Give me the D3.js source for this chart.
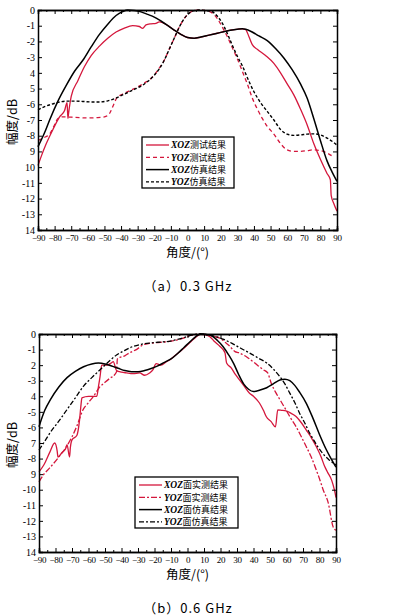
<!DOCTYPE html>
<html lang="zh">
<head>
<meta charset="UTF-8">
<script src="https://cdn.jsdelivr.net/npm/d3@7"></script>
<style>
    body { margin: 0; background: #fff; }
    .tick text { font-family: "Liberation Serif", serif; fill: #000; }
    .title { font-family: "Noto Sans CJK SC", sans-serif; font-size: 12.5px; }
    .caption { font-family: "Noto Sans CJK SC", sans-serif; font-size: 13px; }
    .leg { font-family: "Noto Sans CJK SC", sans-serif; font-size: 9px; }
    .leg .it { font-family: "Liberation Serif", serif; font-style: italic; font-weight: bold; font-size: 9.5px; }
</style>
</head>
<body>
<svg id="chart" width="399" height="616"></svg>
<script>
// ---- data (angle in degrees, gain in dB) ----
const xTicks = [-90, -80, -70, -60, -50, -40, -30, -20, -10, 0, 10, 20, 30, 40, 50, 60, 70, 80, 90];
const yLabelsA = ["0", "-1", "-2", "-3", "4", "5", "-6", "-7", "-8", "9", "10", "-11", "-12", "-13", "14"];
const yLabelsB = ["0", "-1", "2", "-3", "4", "-5", "-6", "7", "-8", "9", "-10", "-11", "-12", "-13", "14"];

// (a) 0.3 GHz
const xozMeasA = [[-90,-9.9],[-88,-9.3],[-85,-8.5],[-81,-7.6],[-77,-6.8],[-74,-6.4],[-72.5,-5.9],[-72,-6.9],[-71.5,-6.5],[-70,-5.5],[-66,-4.5],[-62,-3.6],[-58,-2.9],[-53,-2.3],[-48,-1.8],[-43,-1.4],[-38,-1.15],[-33,-1.0],[-29,-1.05],[-27,-1.17],[-25,-0.95],[-22,-0.88],[-19,-0.85],[-17,-0.76],[-15,-0.8],[-12,-0.98],[-8,-1.28],[-4,-1.55],[0,-1.75],[4,-1.8],[8,-1.72],[13,-1.6],[18,-1.48],[23,-1.35],[28,-1.25],[33,-1.2],[35,-1.25],[37,-1.7],[39,-2.2],[42,-2.5],[47,-2.9],[52,-3.4],[56,-4.0],[60,-4.7],[64,-5.4],[68,-6.3],[72,-7.3],[76,-8.5],[80,-9.5],[84,-10.4],[86,-10.8],[86.5,-11.8],[88,-12.3],[90,-12.8]];
const yozMeasA = [[-90,-8.3],[-86,-8.1],[-83,-7.9],[-80,-7.3],[-78,-6.9],[-75,-6.8],[-70,-6.82],[-65,-6.85],[-60,-6.87],[-55,-6.85],[-50,-6.8],[-47,-6.6],[-46,-6.4],[-44,-5.9],[-42,-5.5],[-40,-5.4],[-38,-5.3],[-34,-5.1],[-30,-4.9],[-26,-4.65],[-22,-4.35],[-19,-4.0],[-17,-3.7],[-14,-3.2],[-11,-2.5],[-8,-1.8],[-5,-1.1],[-2,-0.55],[1,-0.2],[4,-0.04],[7.5,0],[11,-0.04],[15,-0.2],[18,-0.55],[21,-1.1],[24,-1.7],[27,-2.4],[30,-3.1],[33,-3.9],[36,-4.7],[39,-5.6],[42,-6.3],[45,-6.9],[48,-7.4],[52,-7.9],[56,-8.5],[60,-8.9],[64,-9.0],[68,-9.0],[72,-8.95],[76,-8.9],[80,-8.95],[84,-9.1],[88,-9.35]];
const xozSimA = [[-90,-8.7],[-86,-7.8],[-83,-7.0],[-78,-5.8],[-73,-4.8],[-68,-3.9],[-63,-3.2],[-58,-2.35],[-53,-1.55],[-48,-0.9],[-43,-0.35],[-39,-0.1],[-36,0],[-32,-0.03],[-28,-0.12],[-24,-0.28],[-20,-0.45],[-16,-0.7],[-12,-0.98],[-8,-1.28],[-4,-1.55],[0,-1.75],[4,-1.8],[8,-1.72],[13,-1.6],[18,-1.48],[23,-1.35],[28,-1.25],[33,-1.2],[38,-1.35],[43,-1.65],[48,-1.95],[53,-2.45],[58,-3.05],[63,-3.8],[68,-4.7],[72,-5.6],[76,-6.9],[80,-8.3],[84,-9.6],[87,-10.3],[90,-10.9]];
const yozSimA = [[-90,-6.35],[-86,-6.15],[-82,-6.0],[-78,-5.88],[-73,-5.8],[-68,-5.8],[-63,-5.82],[-58,-5.85],[-53,-5.85],[-48,-5.78],[-44,-5.65],[-40,-5.45],[-36,-5.25],[-32,-5.05],[-28,-4.85],[-24,-4.55],[-20,-4.15],[-17,-3.75],[-14,-3.2],[-11,-2.5],[-8,-1.8],[-5,-1.1],[-2,-0.55],[1,-0.2],[4,-0.04],[7.5,0],[11,-0.04],[15,-0.12],[18,-0.4],[21,-0.85],[24,-1.5],[27,-2.25],[30,-2.95],[33,-3.55],[36,-4.3],[40,-5.2],[44,-5.9],[48,-6.45],[52,-7.0],[56,-7.6],[60,-7.9],[64,-7.98],[68,-7.95],[72,-7.9],[76,-7.88],[80,-7.95],[84,-8.15],[87,-8.35],[90,-8.6]];

// (b) 0.6 GHz
const xozMeasB = [[-90,-8.85],[-87,-8.4],[-83.5,-7.6],[-80.5,-7.0],[-79,-7.5],[-78.5,-7.9],[-76,-7.6],[-74,-7.4],[-73,-7.1],[-71.5,-7.9],[-71,-7.3],[-70,-6.8],[-67,-6.5],[-65.5,-5.6],[-64.5,-4.5],[-64,-4.1],[-60,-4.0],[-55,-4.0],[-54,-3.4],[-53,-2.74],[-52,-2.0],[-49,-2.0],[-46,-1.85],[-45,-1.78],[-43,-2.35],[-40,-2.45],[-37,-2.5],[-33,-2.55],[-29,-2.5],[-26,-2.65],[-23,-2.5],[-21,-2.3],[-19,-1.9],[-16,-2.0],[-13,-1.8],[-10,-1.6],[-6,-1.25],[-2,-0.9],[2,-0.5],[5,-0.2],[8,-0.02],[11,-0.05],[13.6,-0.17],[16,-0.45],[19.7,-0.8],[22.7,-1.2],[23.7,-1.86],[26.7,-2.2],[29,-2.6],[31.5,-2.95],[34,-3.3],[37.6,-3.8],[40,-4.0],[43.6,-4.43],[46,-4.9],[47.7,-5.3],[50.7,-5.63],[53.3,-5.97],[54.7,-4.88],[57,-4.9],[59.7,-4.93],[62,-5.05],[65.8,-5.3],[69,-5.7],[72,-6.17],[75,-6.65],[78.1,-7.24],[81,-7.9],[83.1,-8.5],[85,-8.9],[87.4,-9.4],[89,-10.0],[90,-10.5]];
const yozMeasB = [[-90,-9.5],[-87,-9.0],[-83.5,-8.6],[-78,-7.9],[-73.4,-7.24],[-70,-6.6],[-67.2,-5.95],[-63.4,-4.88],[-60,-4.4],[-57,-4.0],[-53,-3.38],[-50,-3.1],[-47,-2.84],[-44,-2.6],[-43,-2.42],[-42.5,-1.6],[-41,-1.5],[-38,-1.4],[-35,-1.2],[-31,-1.0],[-27,-0.7],[-23,-0.6],[-18,-0.55],[-13,-0.5],[-8,-0.42],[-3,-0.28],[1,-0.12],[5,-0.02],[8,0],[12,-0.05],[16,-0.15],[19.7,-0.27],[23,-0.55],[25.8,-0.8],[27.6,-1.03],[28.8,-1.13],[31,-1.2],[35.7,-1.46],[40,-1.8],[43.6,-2.1],[46,-2.3],[48.6,-2.5],[50.7,-3.15],[53.7,-3.8],[56.5,-4.3],[59.7,-4.88],[62.5,-5.4],[65.8,-5.95],[69,-6.6],[72,-7.24],[75,-7.9],[78.1,-8.75],[80,-9.3],[82.2,-10.0],[85.3,-10.85],[88.3,-12.4],[90,-12.6]];
const xozSimB = [[-90,-5.95],[-86.5,-4.9],[-83,-4.2],[-78,-3.4],[-73,-2.8],[-68,-2.4],[-63,-2.1],[-58,-1.92],[-54,-1.87],[-50,-1.92],[-46,-2.05],[-42,-2.2],[-38,-2.35],[-34,-2.42],[-30,-2.42],[-26,-2.35],[-22,-2.22],[-18,-2.05],[-14,-1.82],[-10,-1.6],[-6,-1.25],[-2,-0.85],[2,-0.45],[5,-0.17],[8,0],[11,-0.02],[14,-0.08],[18,-0.4],[21.5,-0.8],[25,-1.35],[28,-1.9],[31,-2.6],[34,-3.2],[37,-3.55],[40,-3.7],[44,-3.6],[48,-3.45],[52,-3.2],[56,-2.95],[59,-2.9],[62,-3.0],[65,-3.3],[68,-3.75],[72,-4.45],[76,-5.4],[80,-6.45],[84,-7.4],[87,-8.0],[90,-8.55]];
const yozSimB = [[-90,-7.45],[-86,-6.8],[-83,-6.3],[-78,-5.6],[-73,-4.85],[-68,-4.1],[-63,-3.35],[-58,-2.8],[-53,-2.3],[-48,-1.8],[-43,-1.35],[-38,-1.05],[-33,-0.8],[-28,-0.66],[-23,-0.58],[-18,-0.53],[-13,-0.49],[-8,-0.4],[-3,-0.26],[1,-0.12],[5,-0.02],[8,0],[12,-0.05],[17,-0.17],[22,-0.35],[27,-0.6],[32,-0.9],[38,-1.24],[43,-1.55],[48,-1.86],[52,-2.25],[56,-2.74],[59,-3.2],[62,-3.8],[65,-4.4],[68,-5.1],[71,-5.7],[74,-6.36],[77,-6.9],[80,-7.4],[83,-7.8],[86,-8.1],[90,-8.4]];

const legendA = ["测试结果", "测试结果", "仿真结果", "仿真结果"];
const legendB = ["面实测结果", "面实测结果", "面仿真结果", "面仿真结果"];

const RED = "#d4173c";
const svg = d3.select("#chart");

function drawPanel(p) {
    const x = d3.scaleLinear().domain([-90, 90]).range([p.left, p.right]);
    const y = d3.scaleLinear().domain([-14, 0]).range([p.bottom, p.top]);
    const g = svg.append("g");

    const line = d3.line().x(d => x(d[0])).y(d => y(d[1])).curve(d3.curveMonotoneX);
    p.series.forEach(s => {
        g.append("path")
            .datum(s.data)
            .attr("fill", "none")
            .attr("stroke", s.color)
            .attr("stroke-width", s.width)
            .attr("stroke-dasharray", s.dash || null)
            .attr("d", line);
    });

    // axes, ticks pointing inward
    const yTicks = d3.range(0, -15, -1);
    const minor = d3.range(-85, 90, 10);
    const fmtY = (d) => p.yLabels[-d];
    g.append("g").attr("transform", `translate(${p.left},0)`)
        .call(d3.axisLeft(y).tickValues(yTicks).tickSize(-4).tickPadding(3).tickFormat(fmtY))
        .selectAll("text").style("font-size", "10px");
    g.append("g").attr("transform", `translate(${p.right},0)`)
        .call(d3.axisRight(y).tickValues(yTicks).tickSize(-4).tickFormat(""));
    g.append("g").attr("transform", `translate(0,${p.bottom})`)
        .call(d3.axisBottom(x).tickValues(xTicks).tickSize(-4).tickPadding(5).tickFormat(d => d < 0 ? "\u2212" + (-d) : d))
        .selectAll("text").style("font-size", "9px").attr("letter-spacing", "-0.3");
    g.append("g").attr("transform", `translate(0,${p.bottom})`)
        .call(d3.axisBottom(x).tickValues(minor).tickSize(-2).tickFormat(""));
    g.append("g").attr("transform", `translate(0,${p.top})`)
        .call(d3.axisTop(x).tickValues(xTicks).tickSize(-4).tickFormat(""));
    g.append("g").attr("transform", `translate(0,${p.top})`)
        .call(d3.axisTop(x).tickValues(minor).tickSize(-2).tickFormat(""));
    g.selectAll(".domain").attr("stroke", "#000").attr("stroke-width", 1.5);
    g.selectAll(".tick line").attr("stroke", "#000");

    // axis titles and caption
    const midY = (p.top + p.bottom) / 2;
    g.append("text").attr("class", "title")
        .attr("transform", `translate(17,${midY + 2}) rotate(-90)`)
        .attr("text-anchor", "middle")
        .text("幅度/dB");
    g.append("text").attr("class", "title")
        .attr("x", (p.left + p.right) / 2).attr("y", p.bottom + 27)
        .attr("text-anchor", "middle")
        .text("角度/(°)");
    g.append("text").attr("class", "caption")
        .attr("x", 188).attr("y", p.bottom + 61)
        .attr("text-anchor", "middle")
        .attr("letter-spacing", "1")
        .text(p.caption);

    // legend
    const lg = g.append("g").attr("transform", `translate(${p.leg.x},${p.leg.y})`);
    lg.append("rect").attr("width", p.leg.w).attr("height", p.leg.h)
        .attr("fill", "#fff").attr("stroke", "#000").attr("stroke-width", 1.3);
    p.series.forEach((s, i) => {
        const cy = 8 + i * 12.3;
        lg.append("line").attr("x1", 4).attr("x2", 27).attr("y1", cy).attr("y2", cy)
            .attr("stroke", s.color).attr("stroke-width", s.width)
            .attr("stroke-dasharray", s.dash || null);
        const t = lg.append("text").attr("class", "leg").attr("x", 29).attr("y", cy + 3.2);
        t.append("tspan").attr("class", "it").text(s.plane);
        t.append("tspan").text(p.legendText[i]);
    });
}

drawPanel({
    left: 38, right: 337, top: 10, bottom: 230,
    yLabels: yLabelsA, caption: "（a）0.3 GHz",
    leg: { x: 142, y: 137, w: 92, h: 51 }, legendText: legendA,
    series: [
        { plane: "XOZ", data: xozMeasA, color: RED, width: 1.3 },
        { plane: "YOZ", data: yozMeasA, color: RED, width: 1.3, dash: "4,3" },
        { plane: "XOZ", data: xozSimA, color: "#000", width: 1.5 },
        { plane: "YOZ", data: yozSimA, color: "#000", width: 1.4, dash: "3,2" }
    ]
});

drawPanel({
    left: 39, right: 336, top: 334, bottom: 552,
    yLabels: yLabelsB, caption: "（b）0.6 GHz",
    leg: { x: 135, y: 477, w: 103, h: 51 }, legendText: legendB,
    series: [
        { plane: "XOZ", data: xozMeasB, color: RED, width: 1.3 },
        { plane: "YOZ", data: yozMeasB, color: RED, width: 1.3, dash: "6,2,2,2" },
        { plane: "XOZ", data: xozSimB, color: "#000", width: 1.5 },
        { plane: "YOZ", data: yozSimB, color: "#000", width: 1.3, dash: "5,2,2,2" }
    ]
});
</script>
</body>
</html>
